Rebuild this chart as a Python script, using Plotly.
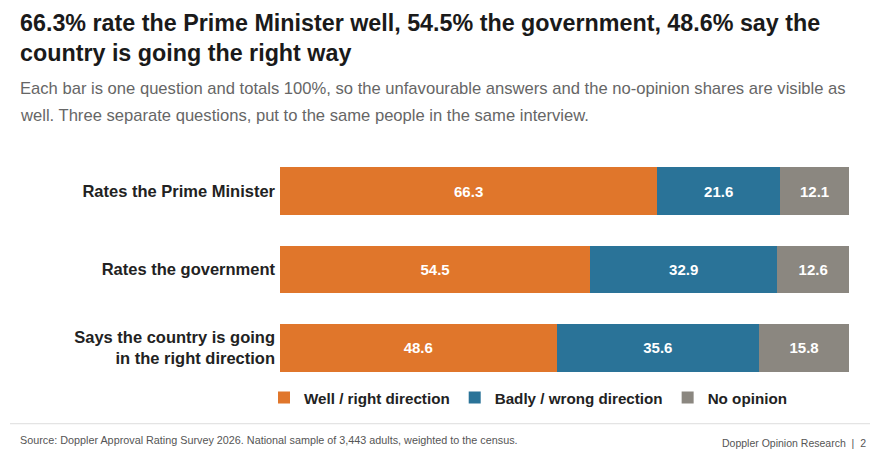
import plotly.graph_objects as go

# --- data ---
questions = [
    "Rates the Prime Minister",
    "Rates the government",
    "Says the country is going<br>in the right direction",
]
well = [66.3, 54.5, 48.6]
badly = [21.6, 32.9, 35.6]
no_opinion = [12.1, 12.6, 15.8]

series_names = ["Well / right direction", "Badly / wrong direction", "No opinion"]
series_colors = ["#E0762B", "#2A7398", "#8B8780"]

W, H = 870, 457
T, B = 152, 387.25          # plot top/bottom in px
L, R = 280, 849             # plot left/right in px
PH = B - T
PW = R - L


def px_x(x):
    return (x - L) / PW


def px_y(y):
    return (B - y) / PH


FONT = "Liberation Sans, Arial, sans-serif"

fig = go.Figure()
for name, vals, col in zip(series_names, [well, badly, no_opinion], series_colors):
    fig.add_trace(go.Bar(
        y=questions,
        x=vals,
        orientation="h",
        name=name,
        marker=dict(color=col, line=dict(width=0)),
        text=[f"{v:.1f}" for v in vals],
        textposition="inside",
        insidetextanchor="middle",
        textfont=dict(color="white", size=15, family=FONT, weight="bold"),
        hoverinfo="skip",
    ))

annotations = []
# title (two lines)
for txt, yc in [("66.3% rate the Prime Minister well, 54.5% the government, 48.6% say the", 22.5),
                ("country is going the right way", 52.5)]:
    annotations.append(dict(
        text=f"<b>{txt}</b>", x=px_x(18), y=px_y(yc), xref="paper", yref="paper",
        xanchor="left", yanchor="middle", showarrow=False,
        font=dict(size=23.3, color="#1a1a1a", family=FONT),
    ))
# subtitle
for txt, yc in [("Each bar is one question and totals 100%, so the unfavourable answers and the no-opinion shares are visible as", 88),
                ("well. Three separate questions, put to the same people in the same interview.", 115)]:
    annotations.append(dict(
        text=txt, x=px_x(18), y=px_y(yc), xref="paper", yref="paper",
        xanchor="left", yanchor="middle", showarrow=False,
        font=dict(size=16.6, color="#666666", family=FONT),
    ))
# footer
annotations.append(dict(
    text="Source: Doppler Approval Rating Survey 2026. National sample of 3,443 adults, weighted to the census.",
    x=px_x(18), y=px_y(440), xref="paper", yref="paper",
    xanchor="left", yanchor="middle", showarrow=False,
    font=dict(size=10.8, color="#555555", family=FONT),
))
annotations.append(dict(
    text="Doppler Opinion Research  |  2",
    x=px_x(868), y=px_y(443), xref="paper", yref="paper",
    xanchor="right", yanchor="middle", showarrow=False,
    font=dict(size=10.5, color="#555555", family=FONT),
))

fig.update_layout(
    width=W, height=H,
    barmode="stack",
    bargap=0.39,
    paper_bgcolor="white",
    plot_bgcolor="white",
    font=dict(family=FONT),
    margin=dict(l=L, r=W - R, t=T, b=H - B, pad=0),
    xaxis=dict(range=[0, 100], visible=False, fixedrange=True),
    yaxis=dict(
        autorange="reversed",
        showgrid=False, zeroline=False, showline=False, ticks="",
        ticklabelstandoff=4,
        tickfont=dict(size=16.5, color="#222222", family=FONT, weight="bold"),
        fixedrange=True,
    ),
    legend=dict(
        orientation="h",
        x=px_x(264), xanchor="left",
        y=px_y(398), yanchor="middle",
        font=dict(size=15.2, color="#222222", family=FONT, weight="bold"),
        traceorder="normal",
        itemclick=False, itemdoubleclick=False,
    ),
    annotations=annotations,
    shapes=[dict(
        type="line", xref="paper", yref="paper",
        x0=px_x(10), x1=px_x(870), y0=px_y(424), y1=px_y(424),
        line=dict(color="#dddddd", width=1),
    )],
    showlegend=True,
)

# page body has a default 8px margin; drop it so the figure fills the window
fig.write_html("out.html", config={"displayModeBar": False},
               post_script="document.body.style.margin='0';")
